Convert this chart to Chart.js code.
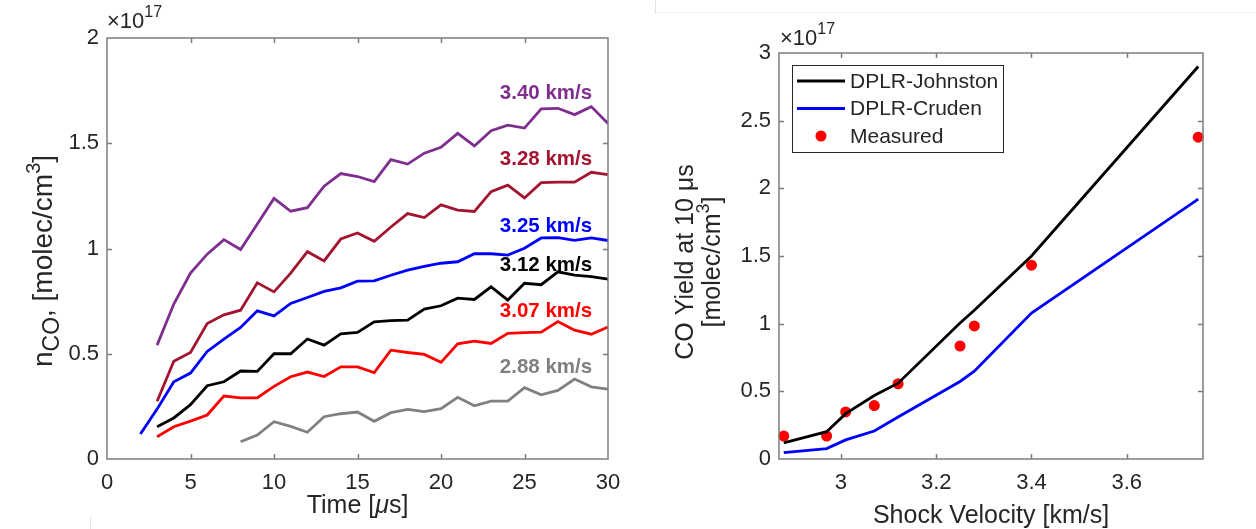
<!DOCTYPE html>
<html>
<head>
<meta charset="utf-8">
<script src="https://cdn.jsdelivr.net/npm/chart.js@4.4.1/dist/chart.umd.min.js"></script>
<style>
  html, body { margin: 0; padding: 0; background: #fff; width: 1256px; height: 529px; overflow: hidden; }
  .panel { position: absolute; top: 0; height: 529px; }
  #leftPanel { left: 0; width: 640px; }
  #rightPanel { left: 640px; width: 616px; }
  .rule { position: absolute; background: #e4e4e4; }
</style>
</head>
<body>
<div class="rule" style="left:655px;top:0;width:1px;height:14px"></div>
<div class="rule" style="left:656px;top:12px;width:600px;height:1px;background:#f0f0f0"></div>
<div class="rule" style="left:90px;top:517px;width:1px;height:12px"></div>
<div class="panel" id="leftPanel"><canvas id="timeChart"></canvas></div>
<div class="panel" id="rightPanel"><canvas id="yieldChart"></canvas></div>
<script>
// ---------- data (CO number density, units of 1e17 molec/cm^3) ----------
const timeTicks = [0, 5, 10, 15, 20, 25, 30];
const densityTicks = [0, 0.5, 1, 1.5, 2];
const velocityTicks = [3, 3.2, 3.4, 3.6];
const yieldTicks = [0, 0.5, 1, 1.5, 2, 2.5, 3];

const runLabels = ['3.40 km/s', '3.28 km/s', '3.25 km/s', '3.12 km/s', '3.07 km/s', '2.88 km/s'];
const runStartTimes = [3, 3, 2, 3, 3, 8]; // first sample, µs (1 µs spacing)

const nco340 = [0.541, 0.736, 0.883, 0.973, 1.042, 0.995, 1.116, 1.238, 1.177, 1.194, 1.296, 1.356, 1.342, 1.318,
                1.422, 1.401, 1.453, 1.481, 1.547, 1.487, 1.560, 1.586, 1.572, 1.663, 1.666, 1.636, 1.674, 1.594];
const nco328 = [0.274, 0.464, 0.506, 0.644, 0.685, 0.707, 0.837, 0.794, 0.883, 0.985, 0.941, 1.045, 1.074, 1.034,
                1.102, 1.166, 1.147, 1.207, 1.182, 1.176, 1.270, 1.301, 1.240, 1.313, 1.315, 1.315, 1.362, 1.351];
const nco325 = [0.119, 0.237, 0.367, 0.408, 0.511, 0.570, 0.625, 0.704, 0.680, 0.739, 0.767, 0.796, 0.813, 0.845,
                0.846, 0.873, 0.897, 0.915, 0.930, 0.937, 0.975, 0.975, 0.969, 1.001, 1.050, 1.052, 1.039, 1.050, 1.038];
const nco312 = [0.153, 0.195, 0.258, 0.348, 0.367, 0.418, 0.416, 0.500, 0.500, 0.570, 0.541, 0.595, 0.601, 0.652,
                0.657, 0.660, 0.712, 0.728, 0.764, 0.758, 0.818, 0.755, 0.835, 0.828, 0.889, 0.873, 0.866, 0.854];
const nco307 = [0.106, 0.153, 0.180, 0.209, 0.299, 0.290, 0.291, 0.345, 0.391, 0.413, 0.392, 0.438, 0.438, 0.411,
                0.517, 0.506, 0.497, 0.459, 0.547, 0.560, 0.549, 0.597, 0.600, 0.603, 0.653, 0.612, 0.593, 0.627];
const nco288 = [0.082, 0.114, 0.177, 0.155, 0.127, 0.201, 0.215, 0.223, 0.179, 0.220, 0.236, 0.225, 0.239, 0.293,
                0.253, 0.275, 0.275, 0.339, 0.305, 0.326, 0.380, 0.343, 0.332];

// CO yield at 10 µs versus shock velocity (units of 1e17 molec/cm^3)
const shockVelocity = [2.88, 2.97, 3.01, 3.07, 3.12, 3.25, 3.28, 3.40, 3.75];
const yieldJohnston = [0.119, 0.202, 0.335, 0.469, 0.560, 1.005, 1.099, 1.500, 2.900];
const yieldCruden   = [0.047, 0.077, 0.141, 0.207, 0.310, 0.573, 0.649, 1.079, 1.920];
const yieldMeasured = [0.170, 0.170, 0.348, 0.395, 0.556, 0.835, 0.983, 1.432, 2.378];

// ---------- styling ----------
const FONT = '"Liberation Sans", Arial, Helvetica, sans-serif';
const TEXT = '#262626';
const AXIS = '#7d7d7d';
const TICK_SIZE = 22;
const TITLE_SIZE = 25;
const runColors = ['#7E2F8E', '#A2142F', '#0000FF', '#000000', '#FF0000', '#808080'];
const runSeries = [nco340, nco328, nco325, nco312, nco307, nco288];
// where each run's label sits: [time at right edge of text, density at text centre]
const runLabelAnchor = [[29.05, 1.735], [29.05, 1.422], [29.05, 1.105], [29.05, 0.918], [29.05, 0.701], [29.05, 0.435]];

function richText(ctx, parts, x, y, align, color) {
  let w = 0;
  for (const p of parts) { ctx.font = `${p.style || ''} ${p.size}px ${FONT}`; w += ctx.measureText(p.t).width; }
  let cx = align === 'center' ? x - w / 2 : (align === 'right' ? x - w : x);
  ctx.textAlign = 'left';
  ctx.textBaseline = 'alphabetic';
  ctx.fillStyle = color;
  for (const p of parts) {
    ctx.font = `${p.style || ''} ${p.size}px ${FONT}`;
    ctx.fillText(p.t, cx, y + (p.dy || 0));
    cx += ctx.measureText(p.t).width;
  }
}

function rotatedRich(ctx, parts, x, y, color) {
  ctx.save();
  ctx.translate(x, y);
  ctx.rotate(-Math.PI / 2);
  richText(ctx, parts, 0, 0, 'center', color);
  ctx.restore();
}

// MATLAB-style box with inward tick marks on all four sides
const boxFrame = {
  id: 'boxFrame',
  afterDatasetsDraw(chart) {
    const { ctx, chartArea: a, scales } = chart;
    const tl = 5;
    ctx.save();
    ctx.strokeStyle = AXIS;
    ctx.lineWidth = 1.5;
    ctx.beginPath();
    for (const t of scales.x.ticks) {
      const px = Math.round(scales.x.getPixelForValue(t.value)) + 0.5;
      if (px <= a.left + 1 || px >= a.right - 1) continue;
      ctx.moveTo(px, a.bottom); ctx.lineTo(px, a.bottom - tl);
      ctx.moveTo(px, a.top); ctx.lineTo(px, a.top + tl);
    }
    for (const t of scales.y.ticks) {
      const py = Math.round(scales.y.getPixelForValue(t.value)) + 0.5;
      if (py <= a.top + 1 || py >= a.bottom - 1) continue;
      ctx.moveTo(a.left, py); ctx.lineTo(a.left + tl, py);
      ctx.moveTo(a.right, py); ctx.lineTo(a.right - tl, py);
    }
    ctx.stroke();
    ctx.strokeRect(a.left, a.top, a.right - a.left, a.bottom - a.top);
    ctx.restore();
  }
};

function axisScale(min, max, ticks, axisBand, isX) {
  return {
    type: 'linear',
    min, max,
    afterBuildTicks(s) { s.ticks = ticks.map(v => ({ value: v })); },
    afterFit(s) { if (isX) s.height = axisBand; else s.width = axisBand; },
    grid: { display: false, drawTicks: false },
    border: { display: false },
    ticks: {
      color: TEXT,
      font: { family: FONT, size: TICK_SIZE },
      padding: isX ? 11 : 8,
      maxRotation: 0,
      autoSkip: false,
      callback: v => String(Math.round(v * 10) / 10)
    }
  };
}

// ---------- left panel: n_CO time histories ----------
const timeDatasets = runSeries.map((vals, i) => ({
  label: runLabels[i],
  data: vals.map((v, k) => ({ x: runStartTimes[i] + k, y: v })),
  borderColor: runColors[i],
  backgroundColor: runColors[i],
  borderWidth: 2.8,
  pointRadius: 0,
  tension: 0,
  fill: false
}));

const timeDecor = {
  id: 'timeDecor',
  afterDraw(chart) {
    const { ctx, chartArea: a, scales } = chart;
    ctx.save();
    // run labels
    runLabels.forEach((txt, i) => {
      const [tx, ty] = runLabelAnchor[i];
      ctx.font = `bold 20.5px ${FONT}`;
      ctx.fillStyle = runColors[i];
      ctx.textAlign = 'right';
      ctx.textBaseline = 'middle';
      ctx.fillText(txt, scales.x.getPixelForValue(tx), scales.y.getPixelForValue(ty));
    });
    // exponent
    richText(ctx, [{ t: '\u00d710', size: 22 }, { t: '17', size: 16, dy: -11 }], a.left, a.top - 10, 'left', TEXT);
    // x title
    richText(ctx, [{ t: 'Time [', size: TITLE_SIZE }, { t: '\u03bc', size: TITLE_SIZE, style: 'italic' }, { t: 's]', size: TITLE_SIZE }],
      (a.left + a.right) / 2, 513, 'center', TEXT);
    // y title
    rotatedRich(ctx, [
      { t: 'n', size: 28 }, { t: 'CO', size: 23, dy: 7 }, { t: ', [molec/cm', size: 28 },
      { t: '3', size: 20, dy: -12 }, { t: ']', size: 28 }
    ], 52, 261, TEXT);
    ctx.restore();
  }
};

new Chart(document.getElementById('timeChart'), {
  type: 'line',
  data: { datasets: timeDatasets },
  options: {
    responsive: true,
    maintainAspectRatio: false,
    animation: false,
    layout: { padding: { left: 0, right: 32, top: 38, bottom: 0 } },
    plugins: { legend: { display: false }, tooltip: { enabled: false } },
    scales: {
      x: axisScale(0, 30, timeTicks, 70, true),
      y: axisScale(0, 2, densityTicks, 107, false)
    }
  },
  plugins: [boxFrame, timeDecor]
});

// ---------- right panel: yield at 10 µs vs shock velocity ----------
const yieldLegend = [
  { name: 'DPLR-Johnston', color: '#000000', kind: 'line' },
  { name: 'DPLR-Cruden', color: '#0000FF', kind: 'line' },
  { name: 'Measured', color: '#FF0000', kind: 'dot' }
];

const yieldDecor = {
  id: 'yieldDecor',
  afterDraw(chart) {
    const { ctx, chartArea: a } = chart;
    ctx.save();
    // legend box
    const bx = a.left + 13, by = a.top + 12, bw = 211, bh = 87;
    ctx.fillStyle = '#ffffff';
    ctx.fillRect(bx, by, bw, bh);
    ctx.strokeStyle = '#262626';
    ctx.lineWidth = 1;
    ctx.strokeRect(bx + 0.5, by + 0.5, bw, bh);
    yieldLegend.forEach((item, i) => {
      const cy = by + 16 + i * 27.5;
      if (item.kind === 'line') {
        ctx.strokeStyle = item.color;
        ctx.lineWidth = 2.8;
        ctx.beginPath();
        ctx.moveTo(bx + 5, cy); ctx.lineTo(bx + 53, cy);
        ctx.stroke();
      } else {
        ctx.fillStyle = item.color;
        ctx.beginPath();
        ctx.arc(bx + 29, cy, 5.5, 0, Math.PI * 2);
        ctx.fill();
      }
      ctx.fillStyle = TEXT;
      ctx.font = `21px ${FONT}`;
      ctx.textAlign = 'left';
      ctx.textBaseline = 'middle';
      ctx.fillText(item.name, bx + 58, cy + 1);
    });
    // exponent
    richText(ctx, [{ t: '\u00d710', size: 22 }, { t: '17', size: 16, dy: -11 }], a.left + 1, a.top - 8, 'left', TEXT);
    // x title
    richText(ctx, [{ t: 'Shock Velocity [km/s]', size: TITLE_SIZE }], (a.left + a.right) / 2, 523, 'center', TEXT);
    // y title (two lines)
    const midY = a.top + (a.bottom - a.top) / 2 + 6;
    rotatedRich(ctx, [{ t: 'CO Yield at 10 \u03bcs', size: TITLE_SIZE }], 53, midY, TEXT);
    rotatedRich(ctx, [{ t: '[molec/cm', size: TITLE_SIZE }, { t: '3', size: 18, dy: -11 }, { t: ']', size: TITLE_SIZE }],
      80, midY, TEXT);
    ctx.restore();
  }
};

new Chart(document.getElementById('yieldChart'), {
  type: 'line',
  data: {
    datasets: [
      {
        label: 'DPLR-Johnston',
        data: shockVelocity.map((v, i) => ({ x: v, y: yieldJohnston[i] })),
        borderColor: '#000000', borderWidth: 2.8, pointRadius: 0, tension: 0, fill: false
      },
      {
        label: 'DPLR-Cruden',
        data: shockVelocity.map((v, i) => ({ x: v, y: yieldCruden[i] })),
        borderColor: '#0000FF', borderWidth: 2.8, pointRadius: 0, tension: 0, fill: false
      },
      {
        label: 'Measured',
        data: shockVelocity.map((v, i) => ({ x: v, y: yieldMeasured[i] })),
        showLine: false, pointRadius: 5.5, pointBorderWidth: 0,
        pointBackgroundColor: '#FF0000', pointBorderColor: '#FF0000', clip: false
      }
    ]
  },
  options: {
    responsive: true,
    maintainAspectRatio: false,
    animation: false,
    layout: { padding: { left: 0, right: 53, top: 53, bottom: 0 } },
    plugins: { legend: { display: false }, tooltip: { enabled: false } },
    scales: {
      x: axisScale(2.87, 3.76, velocityTicks, 70, true),
      y: axisScale(0, 3, yieldTicks, 139, false)
    }
  },
  plugins: [boxFrame, yieldDecor]
});
</script>
</body>
</html>
